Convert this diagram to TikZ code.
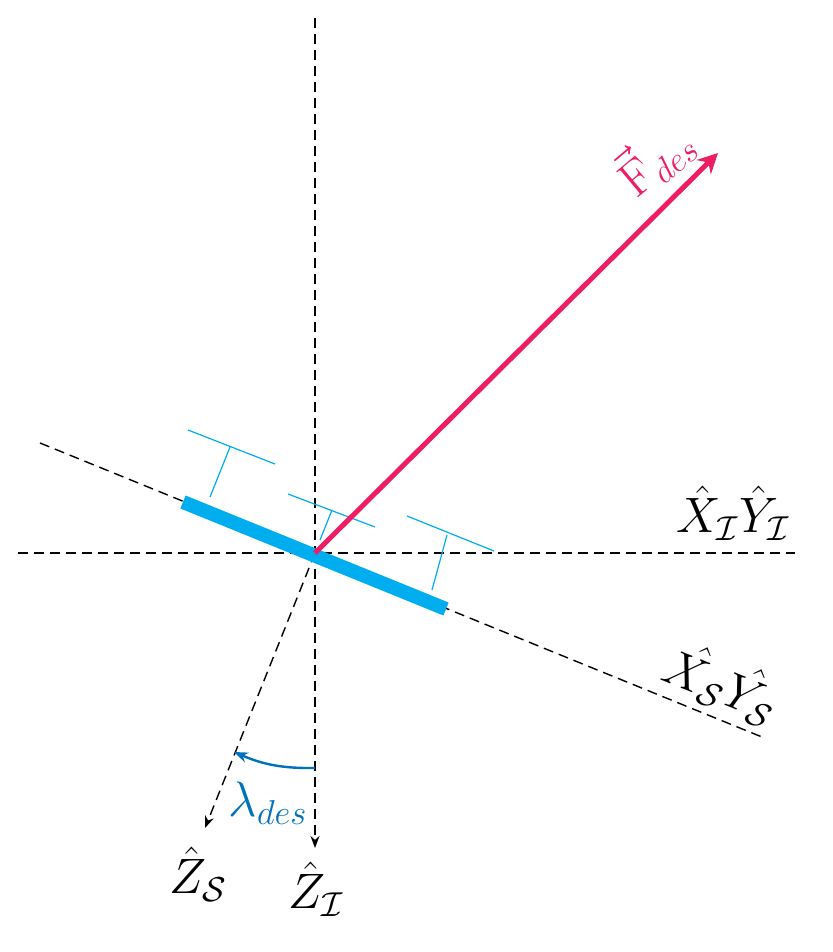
\documentclass[tikz,border=0pt]{standalone}
\usetikzlibrary{arrows.meta}
\definecolor{prop}{RGB}{0,174,239}
\definecolor{force}{RGB}{237,30,100}
\definecolor{ang}{RGB}{0,114,188}
\begin{document}
\begin{tikzpicture}[x=0.5pt,y=-0.5pt,
 dline/.style={dashed,line width=0.7pt,dash pattern=on 5pt off 3pt},
 lbl/.style={font=\fontsize{27}{32}\selectfont},
 propl/.style={prop,line width=0.6pt}]
\useasboundingbox (0,0) rectangle (832,952);
\coordinate (o) at (315,553);
\coordinate (vt) at (315,18);
\coordinate (vb) at (315,848);
\coordinate (hl) at (18,553);
\coordinate (hr) at (795,553);
\coordinate (tl) at (40,443);
\coordinate (tr) at (762,737);
\coordinate (zs) at (205,828);
\draw[dline] (vt) -- (o);
\draw[dline,-{Stealth[length=6pt]}] (o) -- (vb);
\draw[dline] (hl) -- (hr);
\draw[dline] (tl) -- (tr);
\draw[dline,-{Stealth[length=6pt]}] (o) -- (zs);
% propellers
\draw[propl] (210,497) -- (230,447);
\draw[propl] (188,430) -- (275,464);
\draw[propl] (320,540) -- (332,510);
\draw[propl] (288,494) -- (375,527);
\draw[propl] (432,590) -- (447,535);
\draw[propl] (407,516) -- (494,551);
\draw[prop,line width=7pt] (183,502) -- (446,609);
% force
\coordinate (ft) at (718,153);
\draw[force,line width=2.5pt,-{Stealth[length=10pt,width=10pt]}] (o) -- (ft);
\node[force,lbl,rotate=40] (fl) at (654,158) {$\vec{\mathrm{F}}_{des}$};
% angle
\coordinate (a1) at (315,768);
\coordinate (a2) at (234,752);
\draw[ang,line width=1.2pt,-{Stealth[length=7pt]}] (a1) to[bend left=12] (a2);
\node[ang,lbl] (lam) at (268,803) {$\lambda_{des}$};
% labels
\node[lbl] (xyi) at (733,513) {$\hat{X}_{\mathcal{I}}\hat{Y}_{\mathcal{I}}$};
\node[lbl,rotate=-22] (xys) at (722,683) {$\hat{X_{\mathcal{S}}}\hat{Y_{\mathcal{S}}}$};
\node[lbl] (zsl) at (198,874) {$\hat{Z}_{\mathcal{S}}$};
\node[lbl] (zil) at (316,889) {$\hat{Z}_{\mathcal{I}}$};
\end{tikzpicture}
\end{document}
